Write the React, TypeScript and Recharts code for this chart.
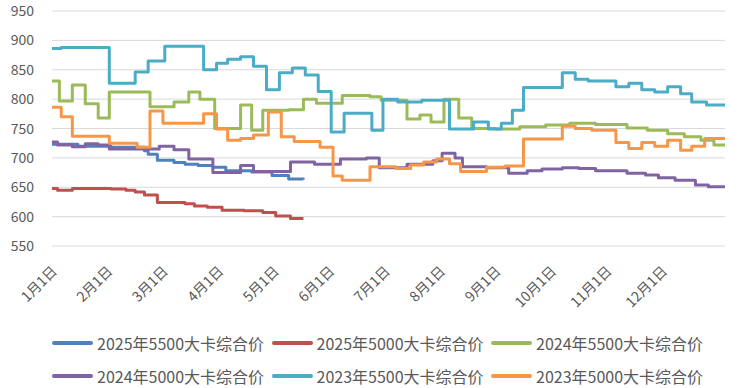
import React from 'react';
import { LineChart, Line, XAxis, YAxis, CartesianGrid, Legend } from 'recharts';

// x values are day offsets from 1月1日 (months drawn evenly, 30 days apart)
const monthTicks = [0, 30, 60, 90, 120, 150, 180, 210, 240, 270, 300, 330];
const monthLabels = ['1月1日', '2月1日', '3月1日', '4月1日', '5月1日', '6月1日', '7月1日', '8月1日', '9月1日', '10月1日', '11月1日', '12月1日'];
const yTicks = [550, 600, 650, 700, 750, 800, 850, 900, 950];

const s2025_5500: [number, number][] = [
  [0, 723], [14, 720], [32, 718], [50, 712], [52, 706], [57, 696], [66, 692], [72, 689], [79, 687],
  [87, 684], [94, 678], [108, 676], [119, 670], [128, 664], [136, 663],
];
const s2025_5000: [number, number][] = [
  [0, 648], [3, 645], [11, 648], [32, 647], [40, 645], [45, 642], [50, 637], [57, 624], [72, 622],
  [77, 618], [84, 616], [92, 611], [104, 610], [114, 607], [121, 601], [129, 597], [136, 597],
];
const s2024_5500: [number, number][] = [
  [0, 831], [4, 797], [11, 824], [18, 792], [25, 768], [31, 812], [53, 787], [66, 795], [74, 812],
  [80, 800], [88, 750], [102, 790], [108, 747], [114, 781], [128, 782], [136, 800], [143, 793],
  [157, 806], [172, 804], [178, 798], [192, 766], [199, 773], [205, 761], [212, 800], [220, 768],
  [227, 750], [240, 749], [253, 753], [267, 756], [280, 759], [294, 757], [311, 751], [322, 747],
  [333, 741], [342, 736], [351, 730], [358, 722], [364, 722],
];
const s2024_5000: [number, number][] = [
  [0, 727], [3, 722], [11, 719], [18, 724], [25, 722], [31, 715], [58, 720], [66, 714], [74, 698],
  [87, 675], [102, 687], [109, 677], [129, 693], [142, 689], [156, 698], [170, 700], [177, 683],
  [192, 689], [206, 695], [211, 708], [218, 700], [222, 685], [235, 683], [247, 674], [257, 678],
  [265, 681], [276, 683], [285, 682], [294, 678], [311, 674], [321, 671], [328, 666], [337, 662],
  [348, 654], [355, 651], [364, 650],
];
const s2023_5500: [number, number][] = [
  [0, 886], [5, 888], [31, 827], [45, 846], [52, 865], [61, 890], [82, 850], [89, 861], [95, 868],
  [102, 872], [109, 856], [116, 816], [123, 845], [130, 853], [137, 841], [144, 813], [151, 744],
  [158, 776], [173, 747], [179, 800], [187, 795], [200, 798], [215, 749], [228, 761], [236, 749],
  [243, 759], [249, 781], [255, 820], [276, 845], [283, 834], [290, 831], [305, 821], [312, 827],
  [319, 816], [326, 812], [333, 821], [340, 809], [346, 795], [354, 790], [364, 789],
];
const s2023_5000: [number, number][] = [
  [0, 786], [5, 770], [11, 737], [31, 725], [46, 718], [53, 780], [60, 759], [82, 775], [89, 749],
  [95, 730], [102, 733], [109, 739], [117, 778], [124, 736], [131, 728], [145, 718], [152, 669],
  [157, 662], [172, 685], [186, 682], [194, 688], [201, 693], [208, 698], [215, 690], [221, 677],
  [235, 684], [245, 686], [255, 732], [276, 754], [283, 750], [292, 747], [305, 726], [312, 716],
  [319, 726], [326, 720], [333, 730], [340, 713], [346, 720], [353, 733], [364, 733],
];

const seriesNames = [
  '2025年5500大卡综合价', '2025年5000大卡综合价', '2024年5500大卡综合价',
  '2024年5000大卡综合价', '2023年5500大卡综合价', '2023年5000大卡综合价',
];
const seriesColors = ['#4F81BD', '#C0504D', '#9BBB59', '#8064A2', '#4BACC6', '#F79646'];
const seriesData = [s2025_5500, s2025_5000, s2024_5500, s2024_5000, s2023_5500, s2023_5000];

const toRows = (arr: [number, number][]) => arr.map(([d, v]) => ({ d, v }));

const TEXT = '#595959';
const FONT = '"Noto Sans CJK SC", "Noto Sans", sans-serif';

const XTick = (props: any) => {
  const { x, y, payload } = props;
  const idx = monthTicks.indexOf(payload.value);
  return (
    <g transform={`translate(${x + 6},${y + 26})`}>
      <text textAnchor="end" transform="rotate(-45)" fill={TEXT} fontSize={14} fontFamily={FONT}>
        {monthLabels[idx]}
      </text>
    </g>
  );
};

const YTick = (props: any) => {
  const { x, y, payload } = props;
  return (
    <text x={x} y={y} dy={5} textAnchor="end" fill={TEXT} fontSize={14} fontFamily={FONT}>
      {payload.value}
    </text>
  );
};

const LegendContent = () => (
  <div style={{ display: 'flex', flexWrap: 'wrap', paddingLeft: 52, paddingTop: 8, width: 738, boxSizing: 'border-box' }}>
    {seriesNames.map((n, i) => (
      <div key={n} style={{ width: 219.5, height: 33, display: 'flex', alignItems: 'center' }}>
        <div style={{ width: 41, height: 4, borderRadius: 2, background: seriesColors[i] }} />
        <span style={{ marginLeft: 4, fontSize: 16, color: TEXT, fontFamily: FONT, whiteSpace: 'nowrap' }}>{n}</span>
      </div>
    ))}
  </div>
);

export default function App() {
  return (
    <div style={{ position: 'absolute', left: 0, top: 0, width: 738, height: 388, background: '#fff' }}>
      <LineChart width={738} height={388} margin={{ top: 11, right: 13, bottom: 0, left: 0 }}>
        <CartesianGrid horizontal vertical={false} stroke="#D9D9D9" strokeWidth={1} />
        <XAxis
          type="number"
          dataKey="d"
          domain={[0, 364]}
          ticks={monthTicks}
          interval={0}
          axisLine={false}
          tickLine={false}
          tickSize={0}
          tickMargin={0}
          height={72}
          tick={<XTick />}
          allowDataOverflow
        />
        <YAxis
          type="number"
          domain={[550, 950]}
          ticks={yTicks}
          interval={0}
          axisLine={false}
          tickLine={false}
          tickSize={0}
          tickMargin={18}
          width={52}
          tick={<YTick />}
        />
        <Legend verticalAlign="bottom" height={70} content={<LegendContent />} wrapperStyle={{ height: 70 }} />
        {seriesData.map((s, i) => (
          <Line
            key={seriesNames[i]}
            data={toRows(s)}
            dataKey="v"
            name={seriesNames[i]}
            type="stepAfter"
            stroke={seriesColors[i]}
            strokeWidth={3}
            dot={false}
            activeDot={false}
            isAnimationActive={false}
            strokeLinejoin="round"
          />
        ))}
      </LineChart>
    </div>
  );
}
